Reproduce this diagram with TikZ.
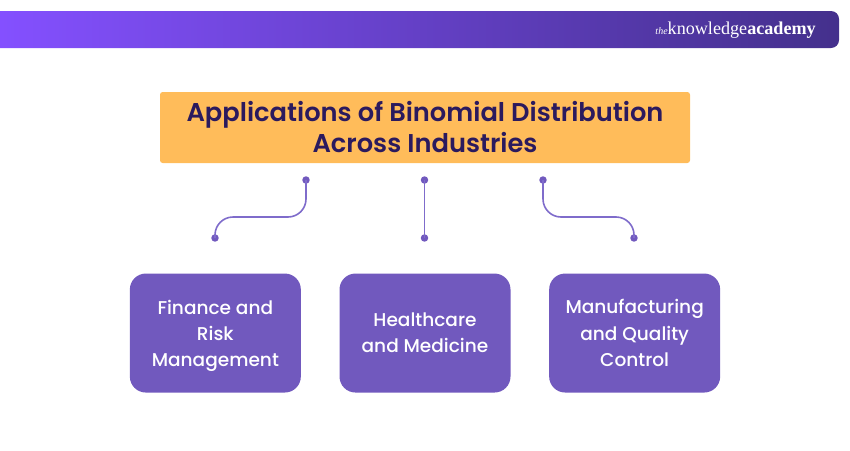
\documentclass[tikz,border=0pt]{standalone}
\usepackage{fontspec}
\setmainfont{Poppins}
\newfontfamily\logofont{Liberation Serif}
\newfontfamily\medfont{Poppins Medium}
\newfontfamily\semifont{Poppins SemiBold}
\usetikzlibrary{positioning}
\definecolor{bannerleft}{HTML}{8450FF}
\definecolor{bannerright}{HTML}{44308C}
\definecolor{titlefill}{HTML}{FFBC5A}
\definecolor{titleink}{HTML}{2B1A5E}
\definecolor{boxfill}{HTML}{7159BE}
\definecolor{linkink}{HTML}{7F6CCB}

\begin{document}
\begin{tikzpicture}[
  x=0.75pt, y=-0.75pt,
  title/.style={fill=titlefill, text=titleink, rounded corners=2pt, minimum width=397.5pt, minimum height=53.25pt,
    align=center, inner sep=0pt, font=\fontsize{19.3pt}{23.25pt}\semifont,
    execute at end node=\rule[-1.4pt]{0pt}{1.4pt}},
  topic/.style={fill=boxfill, text=white, rounded corners=12pt, minimum width=128.25pt, minimum height=89.25pt,
    align=center, inner sep=0pt, font=\fontsize{13.9pt}{19.6pt}\medfont},
  dot/.style={circle, fill=boxfill, minimum size=5.6pt, inner sep=0pt},
  link/.style={draw=linkink, line width=1.2pt, rounded corners=13.5pt}
]
  \useasboundingbox (0,0) rectangle (850,450);

  % Top banner
  \shade[left color=bannerleft, right color=bannerright, rounded corners=6pt]
    (0,11) [sharp corners] -- (0,48) [rounded corners=6pt] -- (839,48) -- (839,11) [sharp corners] -- cycle;
  \node[text=white, inner sep=0pt, anchor=east] (logo) at (816,30)
    {\logofont\fontsize{7.5pt}{7.5pt}\selectfont\textit{the}\fontsize{13.6pt}{14pt}\selectfont knowledge\textbf{academy}};

  % Heading
  \node[title] (head) at (425,127.5) {Applications of Binomial Distribution\\Across Industries};

  % Boxes
  \node[topic, below=82.5pt of head] (health) {Healthcare\\and Medicine};
  \node[topic, left=28.6pt of health] (finance) {Finance and\\Risk\\\smash{Management}};
  \node[topic, right=28.6pt of health] (quality) {Manufacturing\\and Quality\\Control};

  % Dots
  \node[dot] (ftop) at (306,180) {};
  \node[dot] (htop) at (424.5,180) {};
  \node[dot] (qtop) at (543,180) {};
  \node[dot] (fend) at (215,238) {};
  \node[dot] (hend) at (424.5,238) {};
  \node[dot] (qend) at (634,238) {};

  % Connectors
  \draw[link] (ftop.center) -- (306,217) -- (215,217) -- (fend.center);
  \draw[link] (htop.center) -- (hend.center);
  \draw[link] (qtop.center) -- (543,217) -- (634,217) -- (qend.center);
\end{tikzpicture}
\end{document}
